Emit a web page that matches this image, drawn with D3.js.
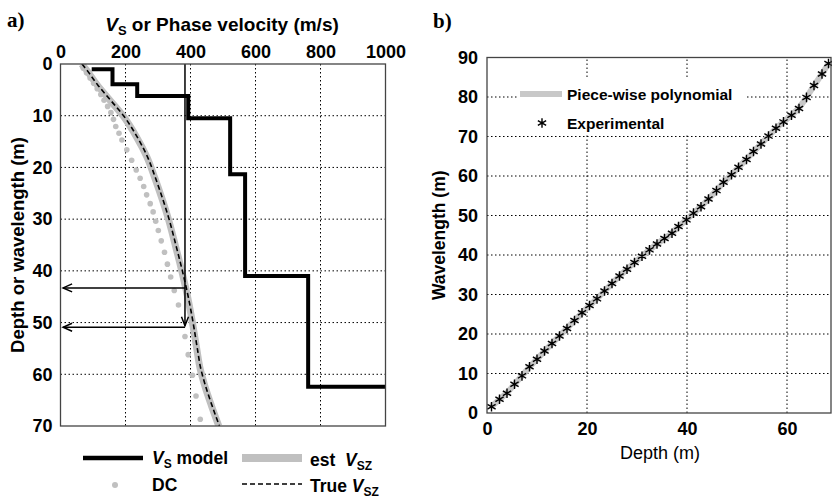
<!DOCTYPE html>
<html>
<head>
<meta charset="utf-8">
<script src="https://cdn.jsdelivr.net/npm/d3@7"></script>
<style>
    body { margin: 0; background: #fff; }
    text { font-family: "Liberation Sans", Arial, sans-serif; }
    .tick text { font-size: 18px; font-weight: bold; fill: #000; }
    .grid line { stroke: #000; stroke-width: 1; stroke-dasharray: 1.5,2.5; }
</style>
</head>
<body>
<div id="chart"></div>
<script>
// ---- panel a data ----
const xTicksA = [0, 200, 400, 600, 800, 1000];
const yTicksA = [0, 10, 20, 30, 40, 50, 60, 70];

// layered Vs model (step vertices)
const modelVs = [96, 160, 236, 393, 522, 568, 762, 1000];
const modelDepth = [1, 3.9, 6.2, 10.5, 21.3, 41.0, 62.4, 62.4];

// estimated and true Vsz
const vszDepth = [0, 1, 4, 7, 10, 14, 18, 22, 26, 30, 35, 40, 45, 50, 55, 59, 62, 66, 70];
const estVsz = [65, 78, 112, 152, 192, 233, 266, 290, 312, 332, 353, 373, 391, 406, 419, 430, 443, 464, 487];
const trueVsz = [66, 79, 114, 154, 194, 235, 268, 292, 314, 334, 355, 375, 393, 408, 421, 432, 445, 466, 489];

// dispersion curve (phase velocity vs wavelength)
const dcWavelength = [0.8, 1.7, 2.7, 3.7, 4.8, 5.9, 7.0, 8.2, 9.4, 10.7, 12.1, 13.4, 14.7, 16.6, 18.6, 20.5, 22.1,
    23.7, 25.3, 27.0, 28.6, 30.4, 32.2, 34.2, 36.4, 38.7, 41.2, 43.8, 46.6, 52.7, 56.2, 60.2, 64.2, 68.7];
const dcVel = [70, 80, 91, 102, 113, 124, 134, 145, 155, 163, 170, 180, 189, 204, 219, 233, 245,
    256, 265, 276, 285, 293, 301, 310, 320, 329, 339, 350, 363, 383, 393, 406, 417, 430];

// annotation: phase velocity line and arrows to the depth axis
const phaseVel = 383;
const phaseLineDepth = [0, 50.6];
const arrowDepths = [43.3, 50.9];
const arrowTipVel = 8;

// ---- panel b data ----
const xTicksB = [0, 20, 40, 60];
const yTicksB = [0, 10, 20, 30, 40, 50, 60, 70, 80, 90];
const expDepth = [0.9, 2.5, 4.0, 5.5, 7.0, 8.5, 10.0, 11.5, 13.0, 14.5, 16.0, 17.5, 19.0, 20.5, 22.0, 23.5, 25.0,
    26.5, 28.0, 29.5, 31.0, 32.5, 34.0, 35.5, 37.0, 38.3, 39.9, 41.3, 42.8, 44.3, 45.9, 47.3, 48.9, 50.3,
    51.9, 53.3, 54.8, 56.3, 57.8, 59.3, 60.9, 62.4, 63.9, 65.4, 67.0, 68.3];
const expWavelength = [1.6, 3.5, 5.0, 7.3, 9.4, 11.7, 13.6, 15.7, 17.6, 19.5, 21.4, 23.4, 25.4, 27.2, 28.9, 30.9, 32.8,
    34.7, 36.4, 38.1, 39.7, 41.3, 42.8, 44.2, 45.5, 47.2, 48.9, 50.6, 52.2, 54.2, 56.3, 58.4, 60.3, 62.2,
    64.2, 66.2, 68.1, 70.1, 72.1, 73.7, 75.4, 77.1, 79.9, 82.9, 85.8, 88.5];

const width = 832, height = 498;
const gray = "#c0c0c0";

const svg = d3.select("#chart").append("svg")
    .attr("width", width)
    .attr("height", height);

const defs = svg.append("defs");

// ================= panel a =================
const xA = d3.scaleLinear().domain([0, 1000]).range([60.5, 385.5]);
const yA = d3.scaleLinear().domain([0, 70]).range([64, 426]);

defs.append("clipPath").attr("id", "clipA")
    .append("rect")
    .attr("x", xA(0)).attr("y", yA(0))
    .attr("width", xA(1000) - xA(0)).attr("height", yA(70) - yA(0));

const gA = svg.append("g");

// grid
const gridA = gA.append("g").attr("class", "grid");
gridA.selectAll("line.v").data(xTicksA.slice(1, -1)).enter().append("line")
    .attr("x1", d => xA(d)).attr("x2", d => xA(d))
    .attr("y1", yA(0)).attr("y2", yA(70));
gridA.selectAll("line.h").data(yTicksA.slice(1, -1)).enter().append("line")
    .attr("y1", d => yA(d)).attr("y2", d => yA(d))
    .attr("x1", xA(0)).attr("x2", xA(1000));

const plotA = gA.append("g").attr("clip-path", "url(#clipA)");

// est Vsz (thick gray)
plotA.append("path")
    .datum(vszDepth.map((d, i) => [estVsz[i], d]))
    .attr("fill", "none")
    .attr("stroke", gray)
    .attr("stroke-width", 7)
    .attr("d", d3.line().x(d => xA(d[0])).y(d => yA(d[1])).curve(d3.curveMonotoneY));

// DC dots
plotA.selectAll("circle.dc").data(dcWavelength.map((d, i) => [dcVel[i], d])).enter().append("circle")
    .attr("cx", d => xA(d[0]))
    .attr("cy", d => yA(d[1]))
    .attr("r", 2.8)
    .attr("fill", gray);

// true Vsz (dashed)
plotA.append("path")
    .datum(vszDepth.map((d, i) => [trueVsz[i], d]))
    .attr("fill", "none")
    .attr("stroke", "#000")
    .attr("stroke-width", 1.6)
    .attr("stroke-dasharray", "5,3")
    .attr("d", d3.line().x(d => xA(d[0])).y(d => yA(d[1])).curve(d3.curveMonotoneY));

// Vs model (step)
plotA.append("path")
    .datum(modelVs.map((v, i) => [v, modelDepth[i]]))
    .attr("fill", "none")
    .attr("stroke", "#000")
    .attr("stroke-width", 4)
    .attr("d", d3.line().x(d => xA(d[0])).y(d => yA(d[1])).curve(d3.curveStepAfter));

// phase velocity line with arrows
const ann = plotA.append("g").attr("stroke", "#000").attr("stroke-width", 1.5).attr("fill", "none");
ann.append("line")
    .attr("x1", xA(phaseVel)).attr("x2", xA(phaseVel))
    .attr("y1", yA(phaseLineDepth[0])).attr("y2", yA(phaseLineDepth[1]));
ann.append("polyline")
    .attr("points", [[xA(phaseVel) - 3.5, yA(phaseLineDepth[1]) - 9], [xA(phaseVel), yA(phaseLineDepth[1])],
        [xA(phaseVel) + 3.5, yA(phaseLineDepth[1]) - 9]].join(" "));
arrowDepths.forEach(d => {
    ann.append("line")
        .attr("x1", xA(phaseVel)).attr("x2", xA(arrowTipVel))
        .attr("y1", yA(d)).attr("y2", yA(d));
    ann.append("polyline")
        .attr("points", [[xA(arrowTipVel) + 9, yA(d) - 4], [xA(arrowTipVel), yA(d)],
            [xA(arrowTipVel) + 9, yA(d) + 4]].join(" "));
});

// axes
gA.append("g")
    .attr("transform", `translate(0,${yA(0)})`)
    .call(d3.axisTop(xA).tickValues(xTicksA).tickFormat(d3.format("d")).tickSize(0).tickPadding(6))
    .call(g => g.select(".domain").remove());
gA.append("g")
    .attr("transform", `translate(${xA(0)},0)`)
    .call(d3.axisLeft(yA).tickValues(yTicksA).tickSize(0).tickPadding(8))
    .call(g => g.select(".domain").remove());

gA.append("rect")
    .attr("x", xA(0)).attr("y", yA(0))
    .attr("width", xA(1000) - xA(0)).attr("height", yA(70) - yA(0))
    .attr("fill", "none").attr("stroke", "#444").attr("stroke-width", 1.3);

// titles
const titleA = gA.append("text")
    .attr("x", 222).attr("y", 31)
    .attr("text-anchor", "middle")
    .style("font-size", "19px").style("font-weight", "bold");
titleA.append("tspan").style("font-style", "italic").text("V");
titleA.append("tspan").attr("dy", 4).style("font-size", "13px").text("S");
titleA.append("tspan").attr("dy", -4).text(" or Phase velocity (m/s)");

gA.append("text")
    .attr("transform", `translate(24,${(yA(0) + yA(70)) / 2}) rotate(-90)`)
    .attr("text-anchor", "middle")
    .style("font-size", "18.5px").style("font-weight", "bold")
    .text("Depth or wavelength (m)");

svg.append("text")
    .attr("x", 7).attr("y", 27)
    .style("font-family", "'Liberation Serif', 'Times New Roman', serif")
    .style("font-size", "21px").style("font-weight", "bold")
    .text("a)");

// legend a
const legA = svg.append("g").style("font-size", "17.5px").style("font-weight", "bold");
legA.append("line").attr("x1", 83).attr("x2", 143).attr("y1", 458).attr("y2", 458)
    .attr("stroke", "#000").attr("stroke-width", 4.5);
const lt1 = legA.append("text").attr("x", 152).attr("y", 464);
lt1.append("tspan").style("font-style", "italic").text("V");
lt1.append("tspan").attr("dy", 4).style("font-size", "12px").text("S");
lt1.append("tspan").attr("dy", -4).text(" model");

legA.append("line").attr("x1", 242).attr("x2", 302).attr("y1", 458).attr("y2", 458)
    .attr("stroke", gray).attr("stroke-width", 8);
const lt2 = legA.append("text").attr("x", 310).attr("y", 466);
lt2.append("tspan").text("est\u00a0\u00a0");
lt2.append("tspan").style("font-style", "italic").text("V");
lt2.append("tspan").attr("dy", 4).style("font-size", "12px").text("SZ");

legA.append("circle").attr("cx", 115).attr("cy", 485).attr("r", 3).attr("fill", gray);
legA.append("text").attr("x", 152).attr("y", 491).text("DC");

legA.append("line").attr("x1", 242).attr("x2", 302).attr("y1", 484).attr("y2", 484)
    .attr("stroke", "#000").attr("stroke-width", 1.6).attr("stroke-dasharray", "5,3");
const lt4 = legA.append("text").attr("x", 310).attr("y", 492);
lt4.append("tspan").text("True\u00a0");
lt4.append("tspan").style("font-style", "italic").text("V");
lt4.append("tspan").attr("dy", 4).style("font-size", "12px").text("SZ");

// ================= panel b =================
const xB = d3.scaleLinear().domain([0, 68.8]).range([487, 831]);
const yB = d3.scaleLinear().domain([0, 90]).range([413, 57.5]);

const gB = svg.append("g");

const gridB = gB.append("g").attr("class", "grid");
gridB.selectAll("line.v").data(xTicksB.slice(1)).enter().append("line")
    .attr("x1", d => xB(d)).attr("x2", d => xB(d))
    .attr("y1", yB(0)).attr("y2", yB(90));
gridB.selectAll("line.h").data(yTicksB.slice(1, -1)).enter().append("line")
    .attr("y1", d => yB(d)).attr("y2", d => yB(d))
    .attr("x1", xB(0)).attr("x2", xB(68.8));

// legend background box (hides grid)
gB.append("rect").attr("x", 518).attr("y", 77).attr("width", 227).attr("height", 56).attr("fill", "#fff");

const expData = expDepth.map((d, i) => [d, expWavelength[i]]);

gB.append("path")
    .datum(expData)
    .attr("fill", "none")
    .attr("stroke", "#c8c8c8")
    .attr("stroke-width", 6)
    .attr("d", d3.line().x(d => xB(d[0])).y(d => yB(d[1])).curve(d3.curveBasis));

const star = d3.symbol().type(d3.symbolAsterisk).size(64);
gB.selectAll("path.star").data(expData).enter().append("path")
    .attr("transform", d => `translate(${xB(d[0])},${yB(d[1])})`)
    .attr("d", star)
    .attr("fill", "none")
    .attr("stroke", "#000")
    .attr("stroke-width", 1.4);

gB.append("g")
    .attr("transform", `translate(0,${yB(0)})`)
    .call(d3.axisBottom(xB).tickValues(xTicksB).tickSize(0).tickPadding(9))
    .call(g => g.select(".domain").remove());
gB.append("g")
    .attr("transform", `translate(${xB(0)},0)`)
    .call(d3.axisLeft(yB).tickValues(yTicksB).tickSize(0).tickPadding(9))
    .call(g => g.select(".domain").remove());

gB.append("rect")
    .attr("x", xB(0)).attr("y", yB(90))
    .attr("width", xB(68.8) - xB(0)).attr("height", yB(0) - yB(90))
    .attr("fill", "none").attr("stroke", "#444").attr("stroke-width", 1.3);

gB.append("text")
    .attr("x", 660).attr("y", 459)
    .attr("text-anchor", "middle")
    .style("font-size", "18px")
    .text("Depth (m)");

gB.append("text")
    .attr("transform", `translate(445,${(yB(0) + yB(90)) / 2}) rotate(-90)`)
    .attr("text-anchor", "middle")
    .style("font-size", "17.5px").style("font-weight", "bold")
    .text("Wavelength (m)");

svg.append("text")
    .attr("x", 433).attr("y", 28)
    .style("font-family", "'Liberation Serif', 'Times New Roman', serif")
    .style("font-size", "21px").style("font-weight", "bold")
    .text("b)");

// legend b
const legB = gB.append("g").style("font-size", "15.5px").style("font-weight", "bold");
legB.append("line").attr("x1", 520).attr("x2", 562).attr("y1", 94).attr("y2", 94)
    .attr("stroke", "#c8c8c8").attr("stroke-width", 6);
legB.append("text").attr("x", 567).attr("y", 100).text("Piece-wise polynomial");
legB.append("path")
    .attr("transform", "translate(542,123)")
    .attr("d", star)
    .attr("fill", "none").attr("stroke", "#000").attr("stroke-width", 1.4);
legB.append("text").attr("x", 567).attr("y", 129).text("Experimental");
</script>
</body>
</html>
